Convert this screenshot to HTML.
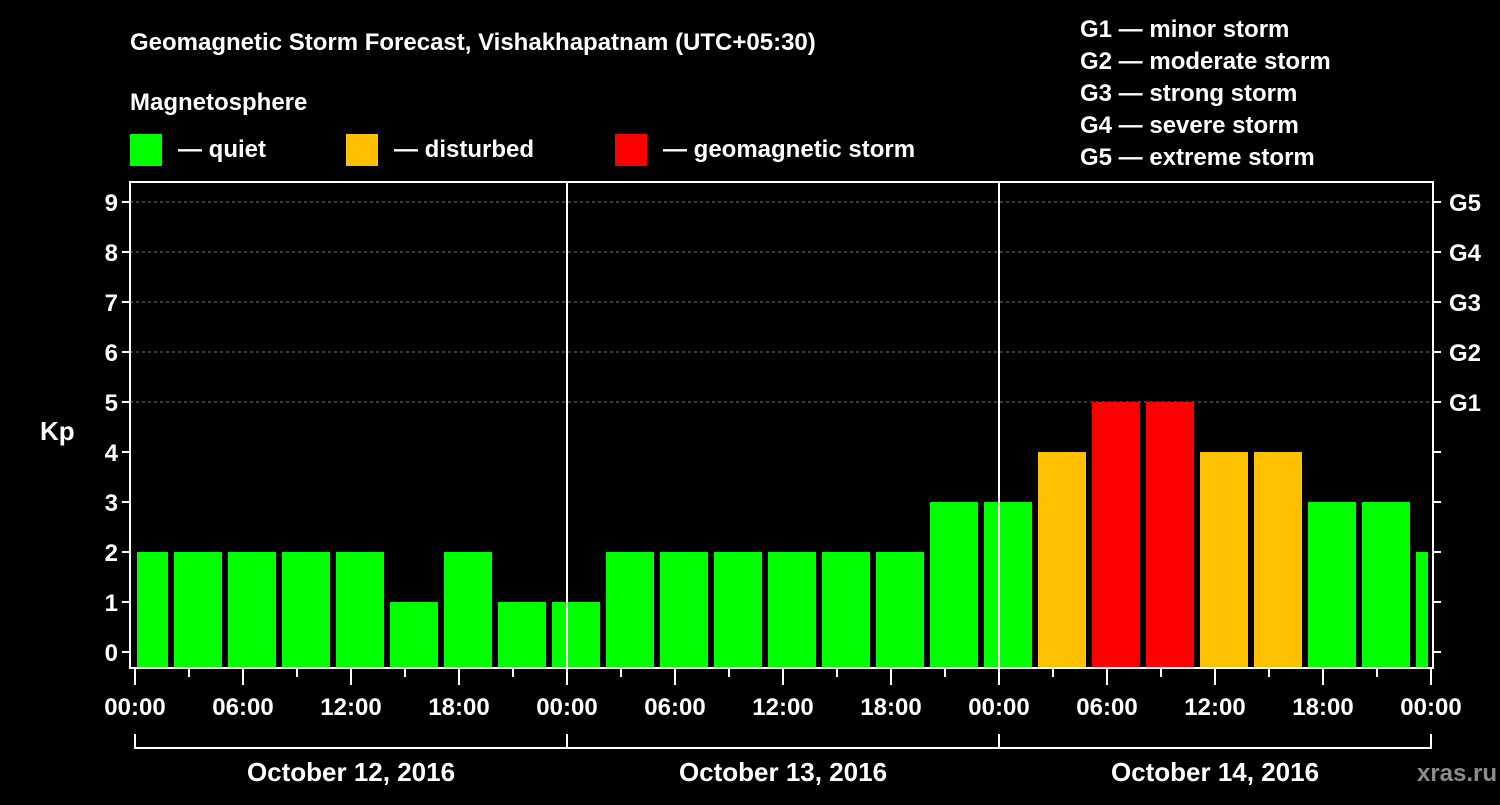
<!DOCTYPE html>
<html><head><meta charset="utf-8"><style>
html,body{margin:0;padding:0;background:#000;}
svg text{font-family:"Liberation Sans",sans-serif;font-weight:bold;fill:#fff;}
</style></head><body>
<svg width="1500" height="800" xmlns="http://www.w3.org/2000/svg">
<rect width="1500" height="800" fill="#000"/>
<text x="130" y="50" font-size="24">Geomagnetic Storm Forecast, Vishakhapatnam (UTC+05:30)</text>
<text x="130" y="110" font-size="24">Magnetosphere</text>
<g><rect x="130" y="134" width="32" height="32" fill="#00ff00"/><text x="178" y="157" font-size="24">— quiet</text></g>
<g><rect x="346" y="134" width="32" height="32" fill="#ffc000"/><text x="394" y="157" font-size="24">— disturbed</text></g>
<g><rect x="615" y="134" width="32" height="32" fill="#ff0000"/><text x="663" y="157" font-size="24">— geomagnetic storm</text></g>
<g font-size="24">
<text x="1080" y="37">G1 — minor storm</text>
<text x="1080" y="69">G2 — moderate storm</text>
<text x="1080" y="101">G3 — strong storm</text>
<text x="1080" y="133">G4 — severe storm</text>
<text x="1080" y="165">G5 — extreme storm</text>
</g>
<text x="40" y="440" font-size="26">Kp</text>
<text x="1497" y="781" font-size="24" fill="#888" style="fill:#8c8c8c" text-anchor="end">xras.ru</text>
<g id="grid"></g><g id="bars"></g><g id="axes"></g>
</svg>
<script>
const kpValues=[2,2,2,2,2,1,2,1,1,2,2,2,2,2,2,3,3,4,5,5,4,4,3,3,2];
const yTicks=[0,1,2,3,4,5,6,7,8,9];
const gLabels=["G1","G2","G3","G4","G5"];
const xTickLabels=["00:00","06:00","12:00","18:00","00:00","06:00","12:00","18:00","00:00","06:00","12:00","18:00","00:00"];
const dayLabels=["October 12, 2016","October 13, 2016","October 14, 2016"];
const NS="http://www.w3.org/2000/svg";
const L=130,R=1433,T=182,B=668,X0=135;
const xS=h=>X0+h*18;
const yS=v=>652-v*50;
function mk(p,tag,a){const e=document.createElementNS(NS,tag);for(const k in a)e.setAttribute(k,a[k]);p.appendChild(e);return e;}
const grid=document.getElementById('grid'),bars=document.getElementById('bars'),axes=document.getElementById('axes');
for(let v=5;v<=9;v++){const l=mk(grid,'line',{x1:L,x2:R,y1:yS(v),y2:yS(v),stroke:'#777','stroke-dasharray':'3,3','stroke-width':1});

}
kpValues.forEach((v,i)=>{
  const s=-1+3*i;
  let x1=xS(s)+3,x2=xS(s+3)-3;
  x1=Math.max(x1,L+7);x2=Math.min(x2,R-5);
  const c=v>=5?'#ff0000':(v>=4?'#ffc000':'#00ff00');
  const r=mk(bars,'rect',{x:x1,y:yS(v),width:x2-x1,height:B-yS(v),fill:c});
  
  
});
const fr=mk(axes,'rect',{x:L,y:T,width:R-L,height:B-T,fill:'none',stroke:'#fff','stroke-width':2});


[24,48].forEach(h=>{const l=mk(axes,'line',{x1:xS(h),x2:xS(h),y1:T,y2:B,stroke:'#fff','stroke-width':2});

});
yTicks.forEach(v=>{
  mk(axes,'line',{x1:L-8,x2:L,y1:yS(v),y2:yS(v),stroke:'#fff','stroke-width':2});
  mk(axes,'line',{x1:R,x2:R+8,y1:yS(v),y2:yS(v),stroke:'#fff','stroke-width':2});
  const t=mk(axes,'text',{x:L-12,y:yS(v)+9,'font-size':24,'text-anchor':'end'});t.textContent=v;
  
  
});
gLabels.forEach((g,i)=>{const t=mk(axes,'text',{x:R+16,y:yS(5+i)+9,'font-size':24});t.textContent=g;

});
for(let h=0;h<=72;h+=3){const maj=h%6===0;mk(axes,'line',{x1:xS(h),x2:xS(h),y1:B+1,y2:B+(maj?17:9),stroke:'#fff','stroke-width':2});}
xTickLabels.forEach((s,i)=>{const t=mk(axes,'text',{x:xS(i*6),y:715,'font-size':24,'text-anchor':'middle'});t.textContent=s;

});
mk(axes,'line',{x1:xS(0),x2:xS(72),y1:748,y2:748,stroke:'#fff','stroke-width':2});
for(let d=0;d<=3;d++)mk(axes,'line',{x1:xS(d*24),x2:xS(d*24),y1:734,y2:749,stroke:'#fff','stroke-width':2});
dayLabels.forEach((s,i)=>{const t=mk(axes,'text',{x:xS(i*24+12),y:781,'font-size':26,'text-anchor':'middle'});t.textContent=s;

});
</script>
</body></html>
